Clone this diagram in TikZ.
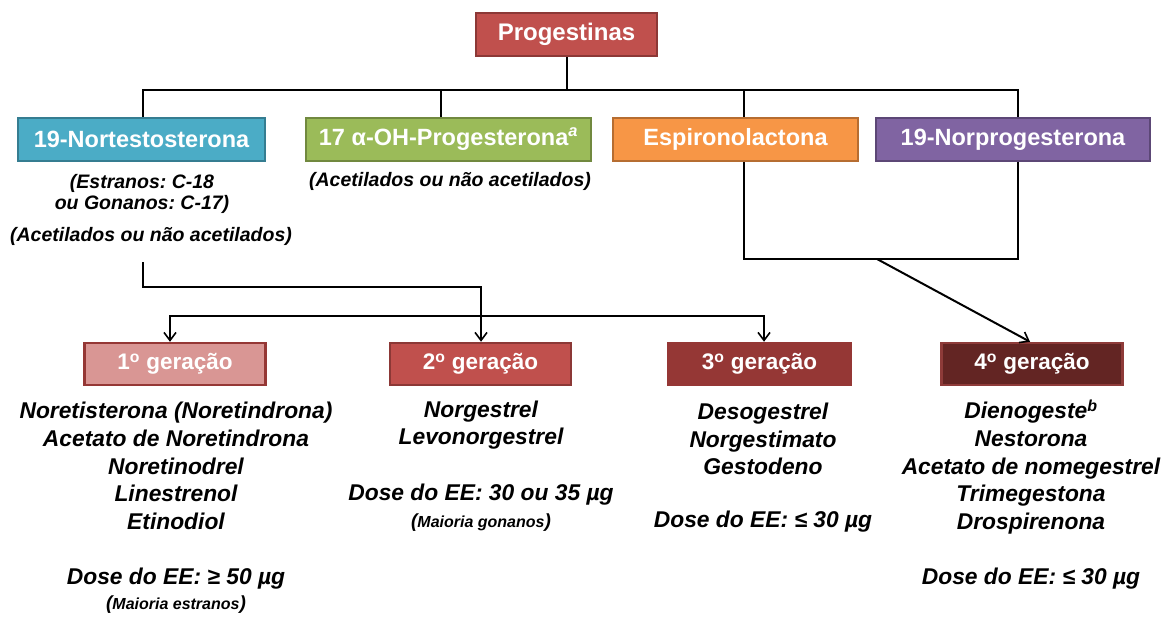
\documentclass[tikz,border=0pt]{standalone}
\usepackage{fontspec}
\setmainfont{Liberation Sans}
\usetikzlibrary{arrows.meta}
\definecolor{cProg}{HTML}{C0504D}
\definecolor{cProgB}{HTML}{8C3836}
\definecolor{cBlue}{HTML}{4BACC6}
\definecolor{cBlueB}{HTML}{357D91}
\definecolor{cGreen}{HTML}{9BBB59}
\definecolor{cGreenB}{HTML}{71893F}
\definecolor{cOrange}{HTML}{F79646}
\definecolor{cOrangeB}{HTML}{B66D31}
\definecolor{cPurple}{HTML}{8064A2}
\definecolor{cPurpleB}{HTML}{5C4776}
\definecolor{cGa}{HTML}{D99694}
\definecolor{cGaB}{HTML}{953735}
\definecolor{cGb}{HTML}{C0504D}
\definecolor{cGbB}{HTML}{8C3836}
\definecolor{cGc}{HTML}{953735}
\definecolor{cGd}{HTML}{632523}
\definecolor{cGdB}{HTML}{8E3B39}
\tikzset{
  box/.style={draw, line width=2.5pt, inner sep=0pt, minimum height=43pt, text=white, font=\fontsize{23.5}{27}\selectfont\bfseries},
  genbox/.style={draw, line width=2.5pt, inner sep=0pt, minimum height=42pt, minimum width=181pt, text=white, font=\fontsize{22.5}{27}\selectfont\bfseries},
  conn/.style={line width=2pt, black},
  arr/.style={conn, -{Straight Barb[length=8pt,width=12pt,line width=1.6pt]}},
  darr/.style={conn, {Straight Barb[length=8pt,width=12pt,line width=1.6pt]}-{Straight Barb[length=8pt,width=12pt,line width=1.6pt]}},
  note/.style={align=center, font=\fontsize{19.5}{21}\selectfont\bfseries\itshape, inner sep=0pt},
  lst/.style={align=center, font=\fontsize{22.8}{27.8}\selectfont\bfseries\itshape, inner sep=0pt},
}
\newcommand{\smallparen}[1]{{\fontsize{19}{22}\selectfont(}{\fontsize{16}{22}\selectfont #1}{\fontsize{19}{22}\selectfont)}}
\frenchspacing
\begin{document}
\frenchspacing
\begin{tikzpicture}[x=1pt,y=-1pt]
\useasboundingbox (0,0) rectangle (1169,616);
% top
\node[box, fill=cProg, draw=cProgB, minimum width=181pt, font=\fontsize{24}{27}\selectfont\bfseries] (prog) at (566.5,34.5) {Progestinas};
% level 2
\node[box, fill=cBlue, draw=cBlueB, minimum width=247pt] (nt) at (141.5,139.5) {19-Nortestosterona};
\node[box, fill=cGreen, draw=cGreenB, minimum width=285pt] (oh) at (448.5,139.5) {17 α-OH-Progesterona\textsuperscript{\itshape a}};
\node[box, fill=cOrange, draw=cOrangeB, minimum width=245pt] (esp) at (735.5,139.5) {Espironolactona};
\node[box, fill=cPurple, draw=cPurpleB, minimum width=274pt] (np) at (1013,139.5) {19-Norprogesterona};
% notes
\node[note] (ntn1) at (142,194) {(Estranos: C-18\\ou Gonanos: C-17)};
\node[note] (ntn2) at (151,236) {(Acetilados ou não acetilados)};
\node[note] (ohn) at (450,181) {(Acetilados ou não acetilados)};
% generations
\node[genbox, fill=cGa, draw=cGaB] (g1) at (175,364) {1\textsuperscript{o} geração};
\node[genbox, fill=cGb, draw=cGbB] (g2) at (480.5,364) {2\textsuperscript{o} geração};
\node[genbox, fill=cGc, draw=cGc, minimum width=183pt] (g3) at (759.5,364) {3\textsuperscript{o} geração};
\node[genbox, fill=cGd, draw=cGdB] (g4) at (1032,364) {4\textsuperscript{o} geração};
% lists
\node[lst] (l1) at (176,466) {Noretisterona (Noretindrona)\\Acetato de Noretindrona\\Noretinodrel\\Linestrenol\\Etinodiol};
\node[lst] (d1) at (176,579) {Dose do EE: ≥ 50 µg};
\node[lst] (m1) at (176,605) {\smallparen{Maioria estranos}};
\node[lst] (l2) at (481,425) {Norgestrel\\Levonorgestrel};
\node[lst] (d2) at (481,495) {Dose do EE: 30 ou 35 µg};
\node[lst] (m2) at (481,523) {\smallparen{Maioria gonanos}};
\node[lst] (l3) at (763,439) {Desogestrel\\Norgestimato\\Gestodeno};
\node[lst] (d3) at (763,522) {Dose do EE: ≤ 30 µg};
\node[lst] (l4) at (1031,467) {Dienogeste\textsuperscript{b}\\Nestorona\\Acetato de nomegestrel\\Trimegestona\\Drospirenona};
\node[lst] (d4) at (1031,579) {Dose do EE: ≤ 30 µg};
% connectors top
\coordinate (bus) at (566.5,90);
\coordinate (busL) at (143,90);
\coordinate (busR) at (1018,90);
\draw[conn] (prog.south) -- (bus);
\draw[conn] (nt.north -| busL) -- (busL) -- (busR) -- (np.north -| busR);
\draw[conn] (oh.north -| 441,0) -- (441,90);
\draw[conn] (esp.north -| 744,0) -- (744,90);
% esp + np merge
\coordinate (mL) at (744,259);
\coordinate (mR) at (1018,259);
\coordinate (mC) at (877,259);
\draw[conn] (esp.south -| mL) -- (mL) -- (mR) -- (np.south -| mR);
\draw[arr] (mC) -- (g4.north -| 1030,0);
% nortestosterona
\coordinate (ntb) at (143,262);
\draw[arr] (ntb) -- (143,287) -- (481,287) -- (g2.north -| 481,0);
\draw[darr] (g1.north -| 170,0) -- (170,316) -- (764,316) -- (g3.north -| 764,0);
\end{tikzpicture}
\end{document}
